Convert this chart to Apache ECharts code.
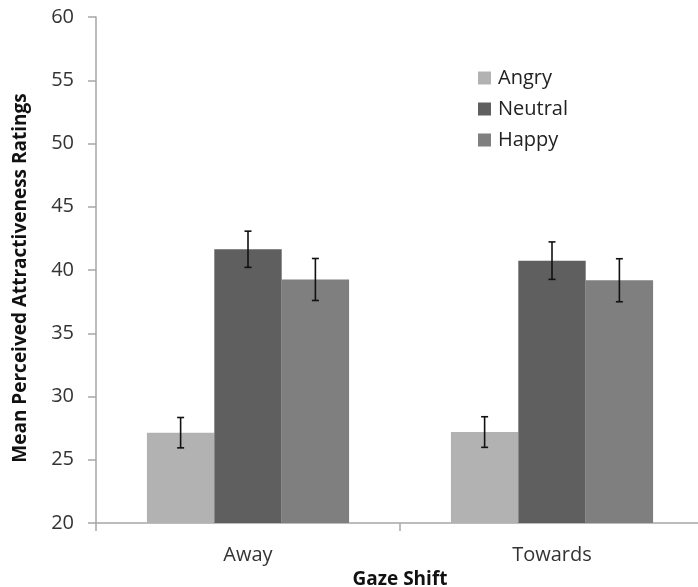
<!DOCTYPE html>
<html>
<head>
<meta charset="utf-8">
<script src="https://cdn.jsdelivr.net/npm/echarts@6/dist/echarts.min.js"></script>
<style>
  html, body { margin: 0; padding: 0; background: #fff; }
  #chart { width: 698px; height: 587px; }
</style>
</head>
<body>
<div id="chart"></div>
<script>
// Gaze shift conditions and emotion series
var categories = ['Away', 'Towards'];
var seriesNames = ['Angry', 'Neutral', 'Happy'];
var angry = [27.14, 27.19];
var neutral = [41.64, 40.74];
var happy = [39.25, 39.19];
// Error bar half-widths (± around each mean)
var angryErr = [1.2, 1.21];
var neutralErr = [1.43, 1.48];
var happyErr = [1.66, 1.7];
var yTicks = [20, 25, 30, 35, 40, 45, 50, 55, 60];

var colors = ['#b2b2b2', '#5f5f5f', '#7f7f7f'];
var values = [angry, neutral, happy];
var errors = [angryErr, neutralErr, happyErr];
var FONT = '"Open Sans", sans-serif';
var CAT_GAP = 0.335;

var chart = echarts.init(document.getElementById('chart'), null, { renderer: 'canvas' });

var series = [];
seriesNames.forEach(function (name, si) {
  series.push({
    name: name,
    type: 'bar',
    data: values[si],
    barGap: '0%',
    barCategoryGap: (CAT_GAP * 100) + '%',
    itemStyle: { color: colors[si] },
    z: 2
  });
});

// Error bars drawn as I-beams centred over each bar
seriesNames.forEach(function (name, si) {
  var data = values[si].map(function (v, ci) {
    return [ci, v - errors[si][ci], v + errors[si][ci]];
  });
  series.push({
    type: 'custom',
    name: name + ' error',
    data: data,
    z: 5,
    silent: true,
    encode: { x: 0, y: [1, 2] },
    renderItem: function (params, api) {
      var ci = api.value(0);
      var lo = api.coord([ci, api.value(1)]);
      var hi = api.coord([ci, api.value(2)]);
      var band = api.size([1, 0])[0];
      var barW = band * (1 - CAT_GAP) / seriesNames.length;
      var x = lo[0] + (si - (seriesNames.length - 1) / 2) * barW;
      var cap = 3.5;
      var style = { stroke: '#111', lineWidth: 1.6 };
      return {
        type: 'group',
        children: [
          { type: 'line', shape: { x1: x, y1: lo[1], x2: x, y2: hi[1] }, style: style },
          { type: 'line', shape: { x1: x - cap, y1: lo[1], x2: x + cap, y2: lo[1] }, style: style },
          { type: 'line', shape: { x1: x - cap, y1: hi[1], x2: x + cap, y2: hi[1] }, style: style }
        ]
      };
    }
  });
});

chart.setOption({
  backgroundColor: '#ffffff',
  animation: false,
  textStyle: { fontFamily: FONT },
  legend: {
    data: seriesNames,
    orient: 'vertical',
    left: 473,
    top: 63,
    itemWidth: 13,
    itemHeight: 13,
    itemGap: 11,
    icon: 'rect',
    textStyle: { fontSize: 20, color: '#222', fontFamily: FONT, padding: [0, 0, 0, 2] }
  },
  // plot area runs slightly past the right edge of the canvas
  grid: { left: 96, right: -6, top: 17, bottom: 64, containLabel: false, outerBoundsMode: 'none' },
  xAxis: {
    type: 'category',
    data: categories,
    name: 'Gaze Shift',
    nameLocation: 'middle',
    nameGap: 46,
    nameTextStyle: { fontSize: 19, fontWeight: 'bold', color: '#111', fontFamily: FONT },
    axisLine: { lineStyle: { color: '#a6a6a6', width: 1.5 } },
    axisTick: { show: true, length: 8, lineStyle: { color: '#a6a6a6', width: 1.5 } },
    axisLabel: { fontSize: 20, color: '#333', margin: 22, fontFamily: FONT },
    splitLine: { show: false }
  },
  yAxis: {
    type: 'value',
    min: yTicks[0],
    max: yTicks[yTicks.length - 1],
    interval: yTicks[1] - yTicks[0],
    name: 'Mean Perceived Attractiveness Ratings',
    nameLocation: 'middle',
    nameGap: 66,
    nameTextStyle: { fontSize: 19, fontWeight: 'bold', color: '#111', fontFamily: FONT, padding: [0, 16, 0, 0] },
    axisLine: { show: true, lineStyle: { color: '#a6a6a6', width: 1.5 } },
    axisTick: { show: true, length: 8, lineStyle: { color: '#a6a6a6', width: 1.5 } },
    axisLabel: { fontSize: 20, color: '#333', margin: 22, fontFamily: FONT },
    splitLine: { show: false }
  },
  series: series
});
</script>
</body>
</html>
